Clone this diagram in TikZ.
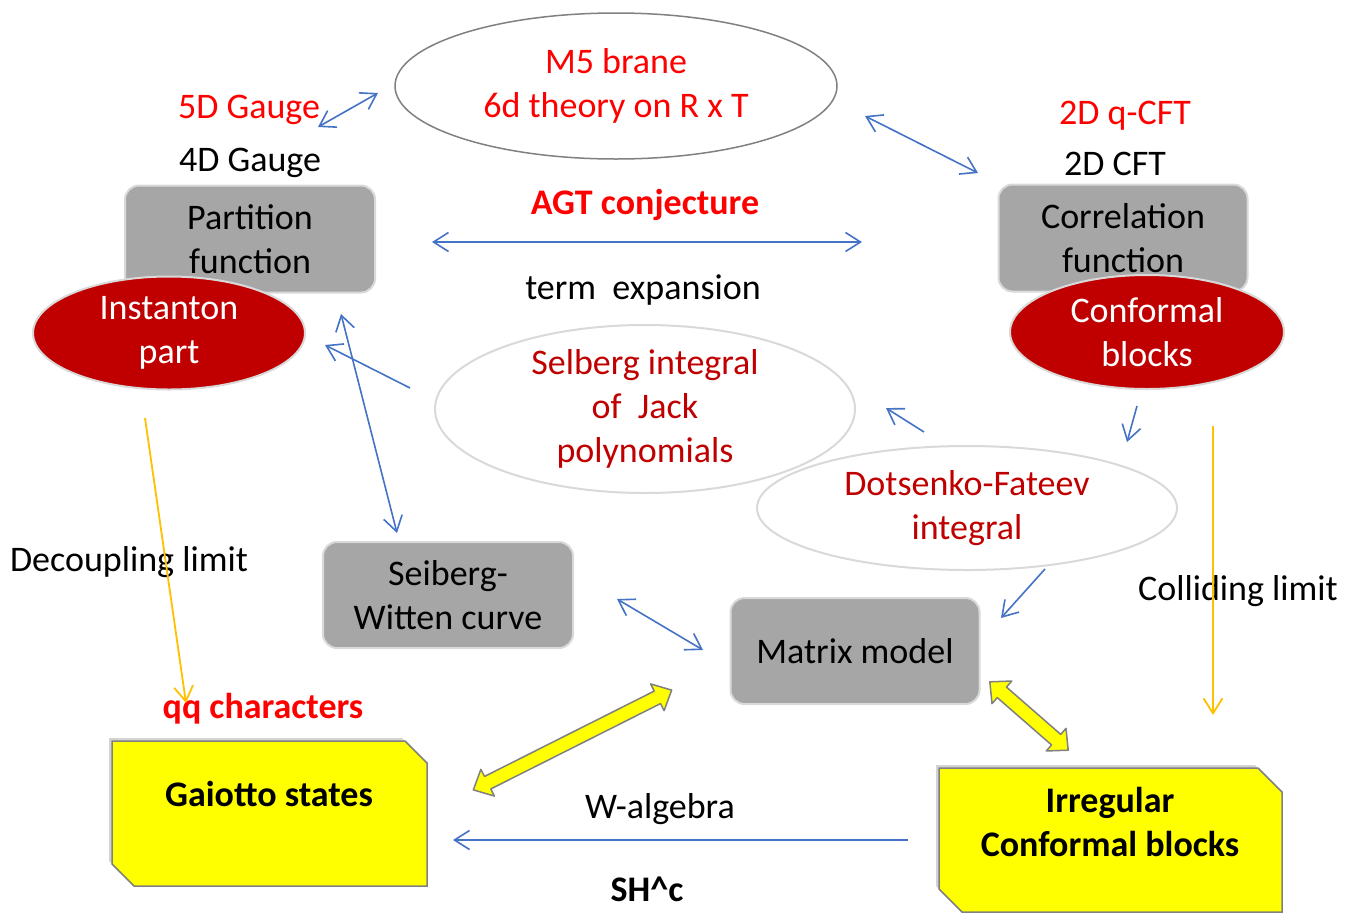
\documentclass[tikz,border=0pt]{standalone}
\usepackage{fontspec}
\setmainfont{Carlito}
\usetikzlibrary{shapes.geometric,shadows,arrows.meta,positioning}
\definecolor{boxgray}{HTML}{A6A6A6}
\definecolor{edgegray}{HTML}{D9D9D9}
\definecolor{darkred}{HTML}{C00000}
\definecolor{linkblue}{HTML}{4472C4}
\definecolor{limitgold}{HTML}{FFC000}
\definecolor{noteyellow}{HTML}{FFFF00}
\tikzstyle{box}=[draw=edgegray,line width=2pt,fill=boxgray,rounded corners=14pt,
  minimum width=250pt,minimum height=107pt,inner sep=0pt,align=center]
\tikzstyle{redoval}=[ellipse,draw=edgegray,line width=2pt,fill=darkred,
  text=white,inner sep=0pt,align=center]
\tikzstyle{oval}=[ellipse,draw=edgegray,line width=2pt,fill=white,
  text=darkred,inner sep=0pt,align=center,minimum width=420pt,minimum height=124pt]
\tikzstyle{note}=[draw=gray,line width=1.5pt,fill=noteyellow,
  drop shadow={shadow xshift=-3pt,shadow yshift=3pt,opacity=.35}]
\tikzstyle{link}=[linkblue,line width=1.6pt]
\tikzstyle{limit}=[limitgold,line width=1.8pt]
\tikzstyle{fat}=[draw=gray,line width=1.5pt,fill=noteyellow,line join=round]
\tikzstyle{bold}=[font=\fontsize{36}{44}\selectfont\bfseries]
\newcommand{\fatarrow}[3]{% center, angle, half length
  \draw[fat,shift={#1},rotate=#2] (-#3,0) -- (-#3+16,15) -- (-#3+16,7)
    -- (#3-16,7) -- (#3-16,15) -- (#3,0) -- (#3-16,-15) -- (#3-16,-7)
    -- (-#3+16,-7) -- (-#3+16,-15) -- cycle;}

\begin{document}
\begin{tikzpicture}[x=1pt,y=-1pt,>={Straight Barb[length=15pt,width=19pt]},
  font=\fontsize{36}{44}\selectfont]
  \useasboundingbox (0,0) rectangle (1345,914);

  % top row
  \node[ellipse,draw=gray,line width=1.5pt,minimum width=442pt,minimum height=146pt,
    inner sep=0pt,align=center,text=red] (m5) at (616,86) {M5 brane\\6d theory on R x T};
  \node[text=red] (gauge5) at (249,110) {5D Gauge};
  \node (gauge4) at (250,163) {4D Gauge};
  \node[text=red] (qcft) at (1125,116) {2D q-CFT};
  \node (cft) at (1115,164) {2D CFT};

  \node[box] (partition) at (250,239) {Partition\\function};
  \node[box,minimum width=249pt] (correlation) at (1123,238) {Correlation\\function};
  \node[redoval,minimum width=272pt,minimum height=113pt] (instanton) at (169,333) {Instanton\\part};
  \node[redoval,minimum width=274pt,minimum height=114pt] (conformal) at (1147,332) {Conformal\\blocks};

  \node[text=red,bold] (agt) at (645,205) {AGT conjecture};
  \node (term) at (643,290) {term~~expansion};

  % middle
  \node[oval] (selberg) at (645,409) {Selberg integral\\of~~Jack\\polynomials};
  \node[oval] (dotsenko) at (967,508) {Dotsenko-Fateev\\integral};
  \node[box,minimum height=106pt] (seiberg) at (448,595) {Seiberg-\\Witten curve};
  \node[box,minimum width=249pt,minimum height=106pt] (matrix) at (855,651) {Matrix model};
  \node (decoupling) at (129,562) {Decoupling limit};
  \node (colliding) at (1238,591) {Colliding limit};

  % bottom
  \node[text=red,bold] (qq) at (263,709) {qq characters};
  \draw[note] (112,741) -- (405,741) -- (427,763) -- (427,886) -- (134,886) -- (112,864) -- cycle;
  \node[bold] (gaiotto) at (269,794) {Gaiotto states};
  \draw[note] (939,768) -- (1258,768) -- (1282,792) -- (1282,912) -- (962,912) -- (939,889) -- cycle;
  \node[bold,align=center] (irregular) at (1110,822) {Irregular\\Conformal blocks};
  \node (walgebra) at (660,809) {W-algebra};
  \node[bold] (shc) at (647,889) {SH\textasciicircum c};

  % arrow ends
  \coordinate (g5a) at (318,127);  \coordinate (m5a) at (378,93);
  \coordinate (m5b) at (865,116);  \coordinate (cfta) at (978,173);
  \coordinate (agtl) at (432,242); \coordinate (agtr) at (862,242);
  \coordinate (selb) at (410,388); \coordinate (instb) at (325,345);
  \coordinate (partb) at (341,314); \coordinate (swa) at (397,533);
  \coordinate (dfa) at (924,432);  \coordinate (selc) at (886,408);
  \coordinate (cbb) at (1137,406); \coordinate (dfb) at (1127,442);
  \coordinate (dfc) at (1045,569); \coordinate (mma) at (1001,618);
  \coordinate (swb) at (617,599);  \coordinate (mmb) at (703,650);
  \coordinate (irra) at (908,840); \coordinate (gaia) at (453,840);
  \coordinate (insta) at (145,418); \coordinate (qqa) at (186,703);
  \coordinate (cbc) at (1213,426); \coordinate (irrb) at (1213,715);

  \draw[link,<->] (g5a) -- (m5a);
  \draw[link,<->] (m5b) -- (cfta);
  \draw[link,<->] (agtl) -- (agtr);
  \draw[link,->] (selb) -- (instb);
  \draw[link,<->] (partb) -- (swa);
  \draw[link,->] (dfa) -- (selc);
  \draw[link,->] (cbb) -- (dfb);
  \draw[link,->] (dfc) -- (mma);
  \draw[link,<->] (swb) -- (mmb);
  \draw[link,->] (irra) -- (gaia);
  \draw[limit,->] (insta) -- (qqa);
  \draw[limit,->] (cbc) -- (irrb);

  \fatarrow{(572.5,740)}{26.7}{111}
  \fatarrow{(1029,716)}{-41.1}{52}
\end{tikzpicture}
\end{document}
